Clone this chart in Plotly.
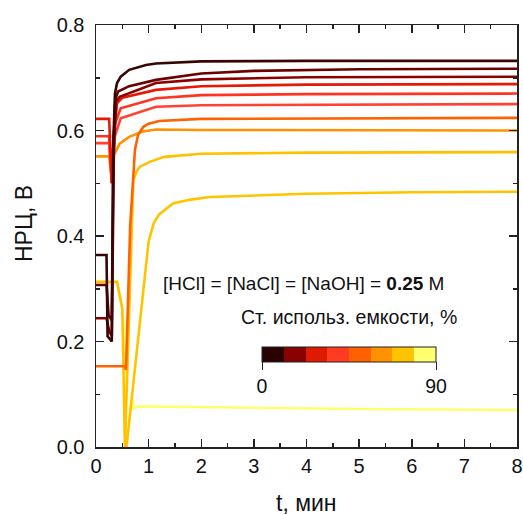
import plotly.graph_objects as go

# ---- data ----
t_dark1 = [0, 0.20, 0.22, 0.30, 0.33, 0.36, 0.40, 0.47, 0.63, 0.95, 1.14, 2.0, 4.0, 8.0]
v_dark1 = [0.364, 0.364, 0.21, 0.20, 0.58, 0.67, 0.69, 0.702, 0.715, 0.724, 0.727, 0.731, 0.732, 0.732]

t_dark2 = [0, 0.20, 0.24, 0.30, 0.33, 0.37, 0.42, 0.63, 1.14, 2.0, 3.0, 5.0, 8.0]
v_dark2 = [0.307, 0.307, 0.25, 0.24, 0.57, 0.66, 0.674, 0.684, 0.696, 0.708, 0.713, 0.716, 0.717]

t_dark3 = [0, 0.20, 0.25, 0.30, 0.34, 0.38, 0.45, 1.14, 2.0, 4.0, 8.0]
v_dark3 = [0.244, 0.244, 0.22, 0.21, 0.56, 0.655, 0.664, 0.690, 0.697, 0.701, 0.702]

t_red = [0, 0.25, 0.30, 0.33, 0.40, 0.50, 1.14, 2.0, 4.0, 8.0]
v_red = [0.622, 0.622, 0.50, 0.58, 0.652, 0.662, 0.677, 0.684, 0.687, 0.688]

t_redor1 = [0, 0.25, 0.30, 0.35, 0.47, 1.14, 2.0, 4.0, 8.0]
v_redor1 = [0.589, 0.589, 0.50, 0.61, 0.642, 0.661, 0.667, 0.669, 0.670]

t_redor2 = [0, 0.25, 0.30, 0.36, 0.47, 1.14, 2.0, 8.0]
v_redor2 = [0.576, 0.576, 0.50, 0.59, 0.623, 0.645, 0.648, 0.650]

t_orange = [0, 0.55, 0.57, 0.60, 0.65, 0.74, 0.80, 0.90, 1.0, 1.2, 2.0, 8.0]
v_orange = [0.153, 0.153, 0.146, 0.25, 0.42, 0.563, 0.592, 0.607, 0.613, 0.618, 0.622, 0.624]

t_orange2 = [0, 0.25, 0.30, 0.34, 0.45, 0.63, 0.89, 1.14, 2.0, 8.0]
v_orange2 = [0.551, 0.551, 0.51, 0.553, 0.575, 0.588, 0.598, 0.602, 0.601, 0.600]

t_goldA = [0, 0.40, 0.50, 0.55, 0.71, 0.77, 0.83, 1.03, 1.3, 2.0, 4.0, 8.0]
v_goldA = [0.313, 0.313, 0.262, 0.0, 0.506, 0.522, 0.531, 0.541, 0.550, 0.556, 0.558, 0.559]

t_goldB = [0.58, 0.80, 1.0, 1.1, 1.2, 1.47, 1.8, 2.17, 3.0, 4.0, 6.0, 8.0]
v_goldB = [0.0, 0.20, 0.39, 0.425, 0.441, 0.462, 0.469, 0.474, 0.477, 0.480, 0.483, 0.484]

t_yellow = [0, 0.40, 0.50, 0.54, 0.56, 0.57, 0.68, 0.72, 0.80, 1.5, 3.0, 5.0, 8.0]
v_yellow = [0.313, 0.313, 0.262, 0.222, 0.0, 0.0, 0.095, 0.073, 0.077, 0.076, 0.074, 0.072, 0.070]

series = [
    (t_yellow, v_yellow, "#ffff72"),
    (t_goldB, v_goldB, "#ffc400"),
    (t_goldA, v_goldA, "#ffc000"),
    (t_orange2, v_orange2, "#ff9200"),
    (t_orange, v_orange, "#ff6200"),
    (t_redor2, v_redor2, "#ff4232"),
    (t_redor1, v_redor1, "#ff3420"),
    (t_red, v_red, "#e41a06"),
    (t_dark3, v_dark3, "#8c0000"),
    (t_dark2, v_dark2, "#6a0202"),
    (t_dark1, v_dark1, "#360606"),
]

cbar_colors = ["#2a0000", "#880000", "#e01a00", "#ff3c20", "#ff6000", "#ff9200", "#ffc400", "#ffff70"]
cbar_range = [0, 90]
x_ticks = [0, 1, 2, 3, 4, 5, 6, 7, 8]
y_ticks = [0.0, 0.2, 0.4, 0.6, 0.8]

FONT = "Liberation Sans, Arial, sans-serif"
W, H = 523, 515
PX0, PX1, PY0, PY1 = 96, 517, 25, 447   # plot area in page pixels
L, R, T, B = PX0, W - PX1, PY0, H - PY1
PW, PH = PX1 - PX0, PY1 - PY0


def px(x):
    return (x - PX0) / PW


def py(y):
    return (PY1 - y) / PH


fig = go.Figure()
for tx, vy, col in series:
    fig.add_trace(go.Scatter(x=tx, y=vy, mode="lines",
                             line=dict(color=col, width=2.6),
                             showlegend=False, hoverinfo="skip"))

n = len(cbar_colors)
cscale = []
for i, c in enumerate(cbar_colors):
    cscale.append([i / n, c])
    cscale.append([(i + 1) / n, c])

fig.add_trace(go.Scatter(
    x=[None], y=[None], mode="markers", showlegend=False, hoverinfo="skip",
    marker=dict(color=[0], colorscale=cscale, cmin=cbar_range[0], cmax=cbar_range[1],
                showscale=True,
                colorbar=dict(orientation="h", lenmode="pixels", len=174,
                              thicknessmode="pixels", thickness=15,
                              x=px(349), xanchor="center",
                              y=py(347), yanchor="top",
                              xpad=0, ypad=0,
                              outlinewidth=1, outlinecolor="#222",
                              tickvals=cbar_range, ticktext=[str(v) for v in cbar_range],
                              ticks="outside", ticklen=8, tickwidth=1, tickcolor="#222",
                              tickfont=dict(family=FONT, size=19.5, color="#111")))))

fig.add_annotation(x=px(303), y=py(283), xref="paper", yref="paper", showarrow=False,
                   text="[HCl] = [NaCl] = [NaOH] = <b>0.25</b> M",
                   font=dict(family=FONT, size=19, color="#111"))
fig.add_annotation(x=px(349), y=py(330), xref="paper", yref="paper", showarrow=False,
                   text="Ст. использ. емкости, %",
                   font=dict(family=FONT, size=19.5, color="#111"))

# axis titles
fig.add_annotation(x=px(306), y=py(503), xref="paper", yref="paper",
                   showarrow=False, text="t, мин", yanchor="middle",
                   font=dict(family=FONT, size=23, color="#111"))
fig.add_annotation(x=px(24), y=py(224), xref="paper", yref="paper",
                   showarrow=False, text="НРЦ, В", textangle=-90, xanchor="center", yanchor="middle",
                   font=dict(family=FONT, size=23, color="#111"))

axis_common = dict(showline=True, linecolor="#222", linewidth=1.5, mirror="allticks",
                   ticks="inside", ticklen=8, tickwidth=1.5, tickcolor="#222",
                   showgrid=False, zeroline=False, automargin=False,
                   tickfont=dict(family=FONT, size=20, color="#111"))

fig.update_xaxes(range=[0, 8], tickvals=x_ticks,
                 minor=dict(ticks="inside", ticklen=4, tickwidth=1.5, tickcolor="#222", dtick=0.5, showgrid=False),
                 **axis_common)
fig.update_yaxes(range=[0, 0.8], tickvals=y_ticks, tickformat=".1f", ticklabelstandoff=6,
                 minor=dict(ticks="inside", ticklen=4, tickwidth=1.5, tickcolor="#222", dtick=0.1, showgrid=False),
                 **axis_common)

fig.update_layout(width=W, height=H, margin=dict(l=L, r=R, t=T, b=B, autoexpand=False),
                  plot_bgcolor="white", paper_bgcolor="white", showlegend=False)

fig.write_html("out.html", config={"displayModeBar": False, "staticPlot": True},
               post_script="document.body.style.margin='0';document.body.style.overflow='hidden';")
